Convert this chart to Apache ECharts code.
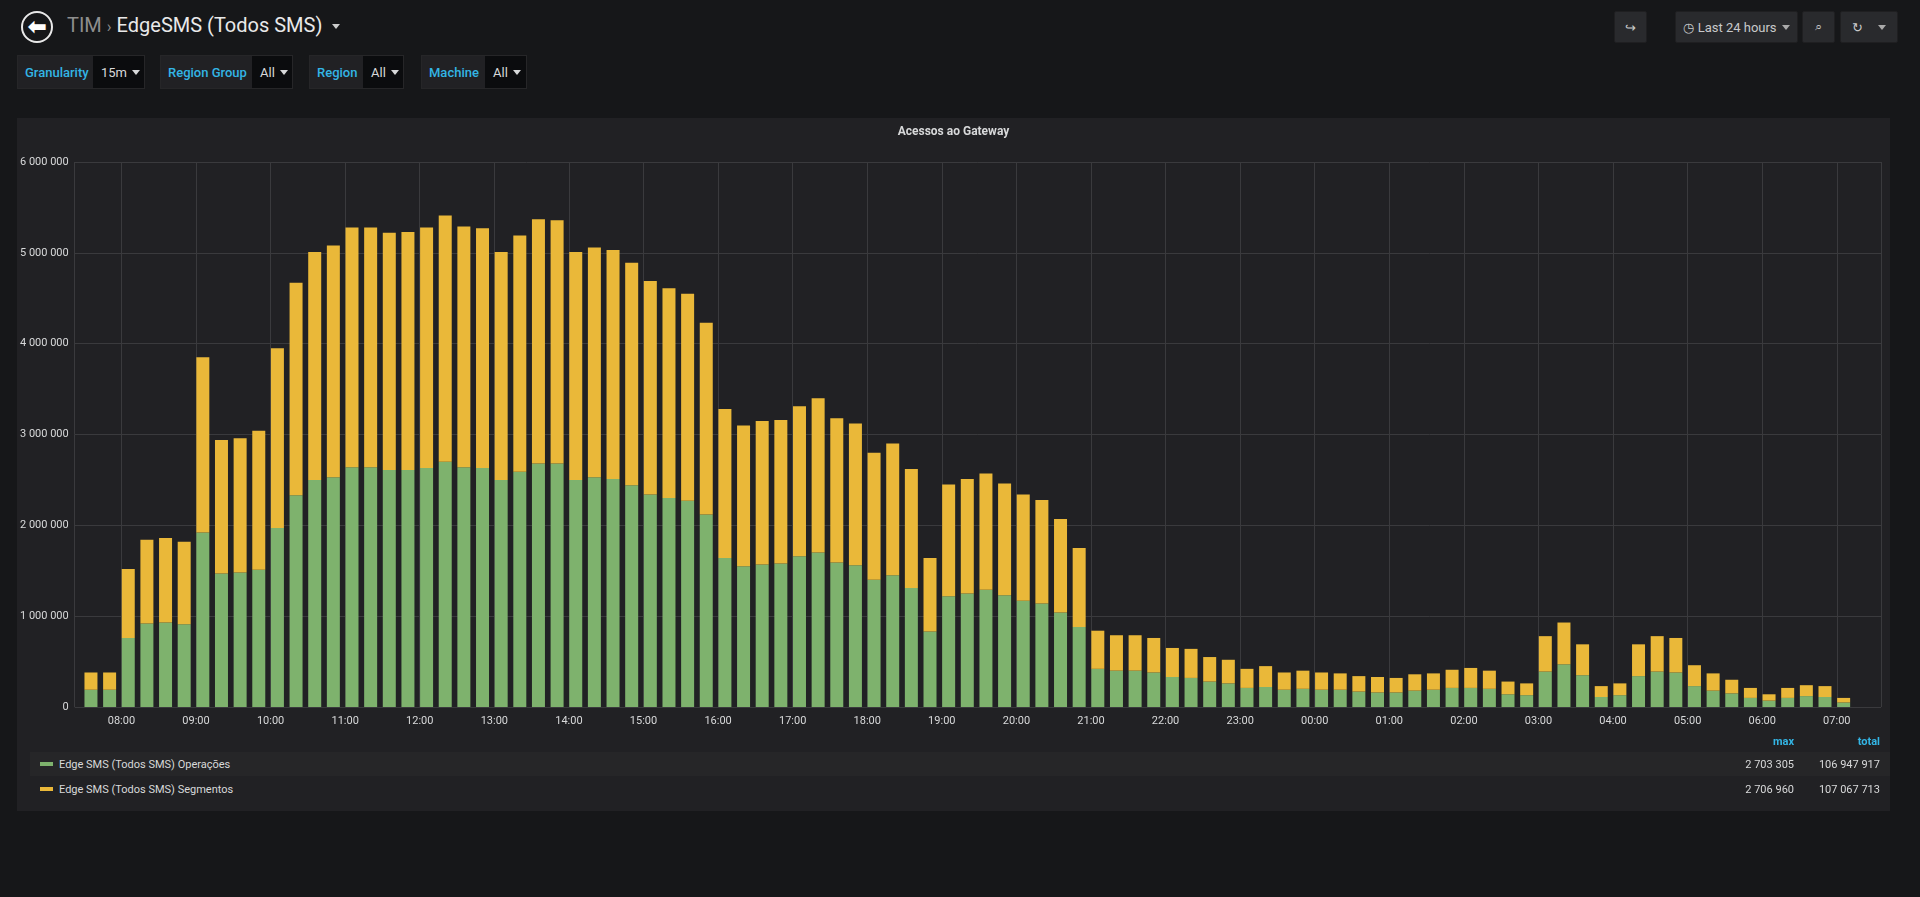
<!DOCTYPE html>
<html><head><meta charset="utf-8">
<script src="https://cdn.jsdelivr.net/npm/echarts@6/dist/echarts.min.js"></script>
<style>
html,body{margin:0;padding:0;width:1920px;height:897px;background:#161719;overflow:hidden;font-family:Roboto,"Open Sans",sans-serif;color:#d8d9da}
.abs{position:absolute}
.btn{position:absolute;background:#292a2d;border:1px solid #1f1f21;border-radius:2px;box-sizing:border-box;color:#c8c9ca;font-size:13px;display:flex;align-items:center;justify-content:center}
.var{position:absolute;top:55px;height:34px;background:#212124;border:1px solid #262628;box-sizing:border-box;font-size:13px}
.var .l{position:absolute;left:0;top:0;bottom:0;display:flex;align-items:center;padding-left:7px;color:#33b5e5;font-weight:500}
.var .v{position:absolute;top:0;bottom:0;right:0;background:#0b0c0e;display:flex;align-items:center;padding-left:8px;color:#d8d9da}
.caret{display:inline-block;width:0;height:0;border-left:4px solid transparent;border-right:4px solid transparent;border-top:5px solid #d8d9da;margin-left:5px}
#panel{position:absolute;left:17px;top:118px;width:1873px;height:693px;background:#212124}
#chart{position:absolute;left:17px;top:118px;width:1873px;height:620px}
.lrow{position:absolute;left:30px;width:1860px;height:24px;font-size:11px;display:flex;align-items:center}
.mk{position:absolute;left:10px;width:13px;height:4px}
</style></head><body>
<div class="abs" style="left:21px;top:11px;width:28px;height:28px;border:2.5px solid #e9e9e9;border-radius:50%;display:flex;align-items:center;justify-content:center;font-size:22px;color:#fff;font-weight:900;line-height:1">&#x2B05;</div>
<div class="abs" style="left:67px;top:13px;font-size:20px;color:#8e8e8e">TIM <span style="font-size:16px;color:#8e8e8e">&#x203A;</span> <span style="color:#e9e9e9">EdgeSMS (Todos SMS)</span> <span class="caret" style="border-top-color:#ccc;vertical-align:middle"></span></div>
<div class="btn" style="left:1614px;top:11px;width:33px;height:32px">&#x21AA;</div>
<div class="btn" style="left:1675px;top:11px;width:123px;height:32px">&#x25F7; Last 24 hours <span class="caret" style="border-top-color:#aaa"></span></div>
<div class="btn" style="left:1802px;top:11px;width:33px;height:32px">&#x2315;</div>
<div class="btn" style="left:1840px;top:11px;width:58px;height:32px">&#x21BB;&nbsp;&nbsp;&nbsp;<span class="caret" style="border-top-color:#aaa"></span></div>

<div class="var" style="left:17px;width:128px"><div class="l">Granularity</div><div class="v" style="left:75px">15m<span class="caret"></span></div></div>
<div class="var" style="left:160px;width:133px"><div class="l">Region Group</div><div class="v" style="left:91px">All<span class="caret"></span></div></div>
<div class="var" style="left:309px;width:95px"><div class="l">Region</div><div class="v" style="left:53px">All<span class="caret"></span></div></div>
<div class="var" style="left:421px;width:106px"><div class="l">Machine</div><div class="v" style="left:63px">All<span class="caret"></span></div></div>

<div id="panel"></div>
<div id="chart"></div>
<div class="abs" style="left:1760px;top:735px;width:34px;text-align:right;font-size:11px;color:#33b5e5;font-weight:bold">max</div>
<div class="abs" style="left:1840px;top:735px;width:40px;text-align:right;font-size:11px;color:#33b5e5;font-weight:bold">total</div>
<div class="lrow" style="top:752px;background:#262628"><div class="mk" style="background:#7eb26d"></div><span style="position:absolute;left:29px" id="n0"></span><span style="position:absolute;right:96px" id="m0"></span><span style="position:absolute;right:10px" id="t0"></span></div>
<div class="lrow" style="top:777px"><div class="mk" style="background:#eab839"></div><span style="position:absolute;left:29px" id="n1"></span><span style="position:absolute;right:96px" id="m1"></span><span style="position:absolute;right:10px" id="t1"></span></div>
<script>
const seriesNames=["Edge SMS (Todos SMS) Operações","Edge SMS (Todos SMS) Segmentos"];
const legendMax=["2 703 305","2 706 960"];
const legendTotal=["106 947 917","107 067 713"];
const startTime="2019-01-01T07:35:30";
const stepMinutes=15;
// green part (millions) and stacked totals (millions)
const operacoes=[0.19,0.19,0.76,0.92,0.93,0.91,1.92,1.47,1.48,1.51,1.97,2.33,2.50,2.53,2.64,2.64,2.61,2.61,2.63,2.70,2.64,2.63,2.50,2.59,2.68,2.68,2.50,2.53,2.51,2.44,2.34,2.30,2.27,2.12,1.64,1.55,1.57,1.58,1.66,1.70,1.59,1.56,1.40,1.45,1.31,0.83,1.22,
1.25,1.29,1.23,1.17,1.14,1.04,0.88,0.42,0.40,0.40,0.38,0.33,0.32,0.28,0.26,0.21,0.22,0.19,0.20,0.19,0.19,0.17,0.16,0.16,0.18,0.19,0.21,0.21,0.20,0.14,0.13,0.39,0.47,0.35,0.11,0.13,0.34,0.39,0.38,0.23,0.18,0.15,0.10,0.07,0.10,0.12,0.11,0.05];
const totals=[0.38,0.38,1.52,1.84,1.86,1.82,3.85,2.94,2.96,3.04,3.95,4.67,5.01,5.08,5.28,5.28,5.22,5.23,5.28,5.41,5.29,5.27,5.01,5.19,5.37,5.36,5.01,5.06,5.03,4.89,4.69,4.61,4.55,4.23,3.28,3.10,3.15,3.16,3.31,3.40,3.18,3.12,2.80,2.90,2.62,1.64,2.45,
2.51,2.57,2.46,2.34,2.28,2.07,1.75,0.84,0.79,0.79,0.76,0.65,0.64,0.55,0.52,0.42,0.45,0.38,0.40,0.38,0.37,0.34,0.33,0.32,0.36,0.37,0.41,0.43,0.40,0.28,0.26,0.78,0.93,0.69,0.23,0.26,0.69,0.78,0.76,0.46,0.37,0.30,0.21,0.14,0.21,0.24,0.23,0.10];

for(let i=0;i<2;i++){document.getElementById('n'+i).textContent=seriesNames[i];document.getElementById('m'+i).textContent=legendMax[i];document.getElementById('t'+i).textContent=legendTotal[i];}
const t0=new Date(startTime).getTime(), step=stepMinutes*60000;
const d0=operacoes.map((v,i)=>[t0+i*step,Math.round(v*1e6)]);
const d1=operacoes.map((v,i)=>[t0+i*step,Math.round((totals[i]-v)*1e6)]);
const fmt=v=>String(v).replace(/\B(?=(\d{3})+(?!\d))/g,' ');
const pad=n=>String(n).padStart(2,'0');
const chart=echarts.init(document.getElementById('chart'));
chart.setOption({
 animation:false,
 title:{text:'Acessos ao Gateway',left:'center',top:3,textStyle:{color:'#d8d9da',fontSize:12,fontWeight:'bold',fontFamily:'Roboto'}},
 grid:{left:57,right:9,top:44,bottom:31},
 xAxis:{type:'time',min:new Date("2019-01-01T07:27:40").getTime(),max:new Date("2019-01-02T07:30:20").getTime(),
  interval:3600000,minInterval:3600000,maxInterval:3600000,
  axisLine:{show:false},axisTick:{show:false},
  axisLabel:{color:'#d8d9da',fontSize:11,fontFamily:'Roboto',margin:9,formatter:v=>{const d=new Date(v);return pad(d.getHours())+':00';}},
  splitLine:{show:true,lineStyle:{color:'#3a3a3d',width:1}}},
 yAxis:{type:'value',min:0,max:6000000,interval:1000000,
  axisLine:{show:false},axisTick:{show:false},
  axisLabel:{color:'#d8d9da',fontSize:11,fontFamily:'Roboto',margin:6,formatter:fmt},
  splitLine:{lineStyle:{color:'#3a3a3d',width:1}}},
 series:[
  {name:seriesNames[0],type:'bar',stack:'a',data:d0,barWidth:13,itemStyle:{color:'#7eb26d'}},
  {name:seriesNames[1],type:'bar',stack:'a',data:d1,barWidth:13,itemStyle:{color:'#eab839'}}
 ]
});
</script></body></html>
